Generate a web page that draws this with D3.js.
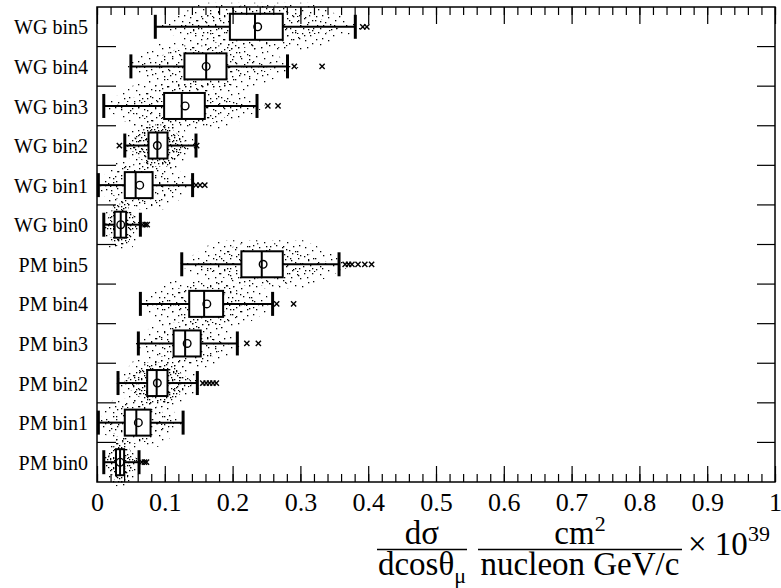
<!DOCTYPE html>
<html>
<head>
<meta charset="utf-8">
<script src="https://cdn.jsdelivr.net/npm/d3@7/dist/d3.min.js"></script>
<style>
html,body{margin:0;padding:0;background:#fff;}
svg{display:block;}
text{font-family:"Liberation Serif","Times New Roman",serif;fill:#000;}
</style>
</head>
<body>
<svg id="chart" width="781" height="588"></svg>
<script>
// ---- data ----
const categories = ["WG bin5","WG bin4","WG bin3","WG bin2","WG bin1","WG bin0",
                    "PM bin5","PM bin4","PM bin3","PM bin2","PM bin1","PM bin0"];
const whiskerLow  = [0.086,0.050,0.010,0.041,0.002,0.010,0.125,0.064,0.061,0.031,0.002,0.010];
const q1          = [0.196,0.129,0.099,0.076,0.041,0.026,0.213,0.136,0.113,0.074,0.041,0.028];
const median      = [0.233,0.161,0.125,0.089,0.057,0.035,0.243,0.158,0.130,0.088,0.058,0.034];
const mean        = [0.237,0.161,0.130,0.089,0.063,0.035,0.245,0.162,0.133,0.089,0.061,0.034];
const q3          = [0.274,0.191,0.159,0.104,0.082,0.043,0.274,0.186,0.153,0.104,0.079,0.040];
const whiskerHigh = [0.381,0.281,0.236,0.146,0.141,0.064,0.357,0.259,0.207,0.148,0.127,0.062];
const outliers = [[0.392,0.398],[0.291,0.332],[0.252,0.267],[0.033,0.147],[0.146,0.152,0.159],
                  [0.067,0.071,0.074],[0.366,0.371,0.376,0.385,0.395,0.405],[0.265,0.290],
                  [0.221,0.238],[0.156,0.161,0.166,0.171,0.176],[],[0.066,0.070,0.073]];
// approximate extent of the scatter cloud of each category
const cloudLo = [0.090,0.040,0.005,0.035,0.000,0.008,0.120,0.060,0.055,0.028,0.000,0.008];
const cloudHi = [0.400,0.300,0.250,0.150,0.150,0.070,0.380,0.270,0.215,0.160,0.130,0.070];
const xTickLabels = ["0","0.1","0.2","0.3","0.4","0.5","0.6","0.7","0.8","0.9","1"];

// ---- layout ----
const L = 97, R = 775, T = 7, B = 482;
const svg = d3.select("#chart");
const x = d3.scaleLinear().domain([0,1]).range([L,R]);
const y = d3.scaleBand().domain(categories).range([T,B]).padding(0);
const bw = y.bandwidth();

// dot patterns for scatter clouds
const defs = svg.append("defs");
function dotPattern(id, size, pts, col){
  const p = defs.append("pattern").attr("id",id).attr("patternUnits","userSpaceOnUse")
    .attr("width",size).attr("height",size);
  pts.forEach(d=>p.append("rect").attr("x",d[0]).attr("y",d[1]).attr("width",1.3).attr("height",1.3).attr("fill",col));
}
dotPattern("dotsA",23,[[1,2],[8,1],[14,5],[19,9],[3,10],[11,12],[17,16],[6,17],[13,20],[0,15],[21,21],[9,6]],"#000");
dotPattern("dotsB",17,[[2,5],[9,3],[14,11],[6,13],[11,8],[3,15],[15,1],[8,16]],"#000");
dotPattern("dotsC",11,[[1,1],[6,3],[3,6],[8,8],[4,9],[9,5],[0,8]],"#000");

const plot = svg.append("g");
categories.forEach((c,i)=>{
  const cy = y(c) + bw/2;
  const lo = x(cloudLo[i]), hi = x(cloudHi[i]);
  const a = x(q1[i]), b = x(q3[i]);
  const outer = [[lo,cy],[a-(a-lo)*0.4,cy-24],[b+(hi-b)*0.3,cy-24],[hi,cy],[b+(hi-b)*0.3,cy+24],[a-(a-lo)*0.4,cy+24]];
  const inner = [[lo+(a-lo)*0.2,cy],[a,cy-21],[b,cy-21],[b+(hi-b)*0.7,cy],[b,cy+21],[a,cy+21]];
  plot.append("path").attr("d",d3.line()(outer)+"Z").attr("fill","url(#dotsA)");
  plot.append("path").attr("d",d3.line()(inner)+"Z").attr("fill","url(#dotsB)");
  if (x(whiskerHigh[i]) - x(whiskerLow[i]) < 80) {
    plot.append("path").attr("d",d3.line()(inner)+"Z").attr("fill","url(#dotsC)");
  }
});

// boxes
const boxes = svg.append("g");
categories.forEach((c,i)=>{
  const cy = y(c) + bw/2;
  const g = boxes.append("g");
  g.append("line").attr("x1",x(whiskerLow[i])).attr("x2",x(q1[i])).attr("y1",cy).attr("y2",cy)
    .attr("stroke","#000").attr("stroke-width",2);
  g.append("line").attr("x1",x(q3[i])).attr("x2",x(whiskerHigh[i])).attr("y1",cy).attr("y2",cy)
    .attr("stroke","#000").attr("stroke-width",2);
  [whiskerLow[i],whiskerHigh[i]].forEach(v=>{
    g.append("line").attr("x1",x(v)).attr("x2",x(v)).attr("y1",cy-12).attr("y2",cy+12)
      .attr("stroke","#000").attr("stroke-width",3);
  });
  g.append("rect").attr("x",x(q1[i])).attr("y",cy-13).attr("width",x(q3[i])-x(q1[i])).attr("height",26)
    .attr("fill","#fff").attr("stroke","#000").attr("stroke-width",2);
  g.append("line").attr("x1",x(median[i])).attr("x2",x(median[i])).attr("y1",cy-13).attr("y2",cy+13)
    .attr("stroke","#000").attr("stroke-width",2);
  g.append("circle").attr("cx",x(mean[i])).attr("cy",cy).attr("r",3.8)
    .attr("fill","none").attr("stroke","#000").attr("stroke-width",1.4);
  outliers[i].forEach(v=>{
    const s = 2.6, px = x(v);
    g.append("path").attr("d",`M${px-s},${cy-s}L${px+s},${cy+s}M${px-s},${cy+s}L${px+s},${cy-s}`)
      .attr("stroke","#000").attr("stroke-width",1.4);
  });
});

// frame
svg.append("rect").attr("x",L).attr("y",T).attr("width",R-L).attr("height",B-T)
  .attr("fill","none").attr("stroke","#000").attr("stroke-width",1.5);

// x axes (bottom + top), ticks pointing inside
const minorTicks = d3.range(0,51).map(k=>k/50);
const majorTicks = d3.range(0,11).map(k=>k/10);
function styleAxis(g){ g.select(".domain").remove(); g.selectAll("line").attr("stroke","#000").attr("stroke-width",1.2); }
svg.append("g").attr("transform",`translate(0,${B})`)
  .call(d3.axisBottom(x).tickValues(minorTicks).tickSize(-8).tickFormat(""))
  .call(styleAxis);
svg.append("g").attr("transform",`translate(0,${B})`)
  .call(d3.axisBottom(x).tickValues(majorTicks).tickSize(-16).tickPadding(11)
        .tickFormat((d,k)=>xTickLabels[k]))
  .call(styleAxis)
  .call(g=>g.selectAll("text").attr("font-size",26).attr("font-family","Liberation Serif"));
svg.append("g").attr("transform",`translate(0,${T})`)
  .call(d3.axisTop(x).tickValues(minorTicks).tickSize(-8).tickFormat(""))
  .call(styleAxis);
svg.append("g").attr("transform",`translate(0,${T})`)
  .call(d3.axisTop(x).tickValues(majorTicks).tickSize(-17).tickFormat(""))
  .call(styleAxis);

// y axis labels + band boundary ticks
svg.append("g").attr("transform",`translate(${L},0)`)
  .call(d3.axisLeft(y).tickSize(0).tickPadding(9))
  .call(g=>g.select(".domain").remove())
  .call(g=>g.selectAll("text").attr("font-size",20).attr("font-family","Liberation Serif").attr("dy","0.38em"));
const bounds = categories.slice(1).map(c=>y(c));
svg.append("g").selectAll("line").data(bounds).join("line")
  .attr("x1",L).attr("x2",L+19).attr("y1",d=>d).attr("y2",d=>d)
  .attr("stroke","#000").attr("stroke-width",1.2);
svg.append("g").selectAll("line").data(bounds).join("line")
  .attr("x1",R-18).attr("x2",R).attr("y1",d=>d).attr("y2",d=>d)
  .attr("stroke","#000").attr("stroke-width",1.2);

// axis title
const t = svg.append("g").attr("font-size",33);
t.append("text").attr("x",422).attr("y",544).attr("text-anchor","middle").text("dσ");
t.append("line").attr("x1",377).attr("x2",467).attr("y1",549.5).attr("y2",549.5).attr("stroke","#000").attr("stroke-width",1.5);
const den1 = t.append("text").attr("x",422).attr("y",575).attr("text-anchor","middle");
den1.append("tspan").text("dcosθ");
den1.append("tspan").attr("font-size",22).attr("dy",8).text("μ");
const num2 = t.append("text").attr("x",580).attr("y",544).attr("text-anchor","middle");
num2.append("tspan").text("cm");
num2.append("tspan").attr("font-size",22).attr("dy",-13).text("2");
t.append("line").attr("x1",478).attr("x2",682).attr("y1",549.5).attr("y2",549.5).attr("stroke","#000").attr("stroke-width",1.5);
t.append("text").attr("x",580).attr("y",575).attr("text-anchor","middle").text("nucleon GeV/c");
const tx = t.append("text").attr("x",688).attr("y",555);
tx.append("tspan").text("× 10");
tx.append("tspan").attr("font-size",22).attr("dy",-14).text("39");
</script>
</body>
</html>
